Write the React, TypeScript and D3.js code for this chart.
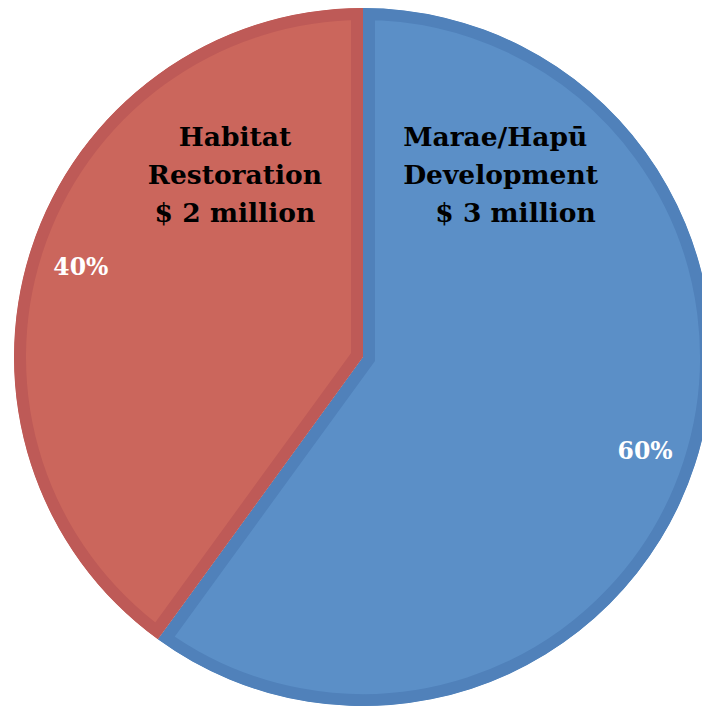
import React from "react";
import * as d3 from "d3";

const categories = ["Marae/Hapū Development", "Habitat Restoration"];
const values = [3, 2];
const labelLines = [
  ["Marae/Hapū", "Development", "$ 3 million"],
  ["Habitat", "Restoration", "$ 2 million"],
];
const fills = ["#5B8FC7", "#CB665C"];
const bands = ["#5081BA", "#BE5A57"];

const W = 702;
const H = 708;
const cx = 363;
const cy = 357;
const R = 349;
const BAND = 12;

export default function App() {
  const pie = d3.pie<number>().sort(null).value((d) => d);
  const arcs = pie(values);
  const total = d3.sum(values);
  const arcGen = d3.arc<d3.PieArcDatum<number>>().innerRadius(0).outerRadius(R);
  const pctArc = d3.arc<d3.PieArcDatum<number>>().innerRadius(R * 0.85).outerRadius(R * 0.85);
  const fmt = d3.format(".0%");

  const labelPos = [
    { x: cx + 0.115 * R, y: cy - 0.605 * R, anchor: "start", indents: [0, 0, 0.092 * R] },
    { x: cx - 0.367 * R, y: cy - 0.605 * R, anchor: "middle", indents: [0, 0, 0] },
  ];
  const lineGap = 38;

  return (
    <svg width={W} height={H} style={{ position: "absolute", left: 0, top: 0 }}>
      <g transform={`translate(${cx},${cy})`}>
        <defs>
          {arcs.map((a, i) => (
            <clipPath id={`clip${i}`} key={i}>
              <path d={arcGen(a) || ""} />
            </clipPath>
          ))}
        </defs>
        {arcs.map((a, i) => (
          <path
            key={i}
            d={arcGen(a) || ""}
            fill={fills[i]}
            stroke={bands[i]}
            strokeWidth={BAND * 2}
            strokeLinejoin="miter"
            clipPath={`url(#clip${i})`}
          />
        ))}
      </g>
      {arcs.map((a, i) => {
        const [px, py] = pctArc.centroid(a);
        return (
          <text
            key={`p${i}`}
            x={cx + px}
            y={cy + py + 2}
            textAnchor="middle"
            dominantBaseline="central"
            fill="#FFFFFF"
            fontFamily="'DejaVu Serif', serif"
            fontWeight="bold"
            fontSize={23.5}
          >
            {fmt(a.value / total)}
          </text>
        );
      })}
      {labelLines.map((lines, i) => (
        <text
          key={`l${i}`}
          fill="#000000"
          fontFamily="'DejaVu Serif', serif"
          fontWeight="bold"
          fontSize={26.5}
          textAnchor={labelPos[i].anchor}
        >
          {lines.map((ln, j) => (
            <tspan key={j} x={labelPos[i].x + labelPos[i].indents[j]} y={labelPos[i].y + j * lineGap}>
              {ln}
            </tspan>
          ))}
        </text>
      ))}
    </svg>
  );
}
